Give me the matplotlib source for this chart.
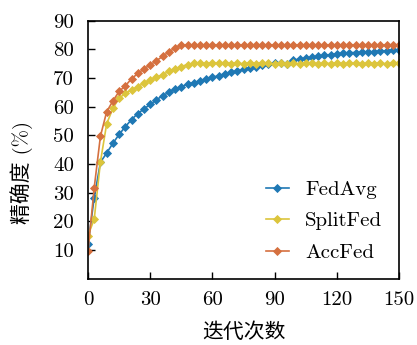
import matplotlib
matplotlib.use("Agg")
import matplotlib.pyplot as plt
import numpy as np

# Training rounds (sampled every 3 iterations)
iterations = list(range(0, 151, 3))

fedavg = [12.0, 28.2, 40.6, 43.8, 47.2, 50.3, 53.0, 55.5, 57.6, 59.2,
          60.8, 62.4, 63.8, 65.0, 66.2, 67.0, 67.8, 68.4, 69.0, 69.6,
          70.2, 70.8, 71.5, 72.0, 72.4, 73.0, 73.5, 74.0, 74.4, 74.8,
          75.1, 75.4, 75.0, 76.2, 76.6, 76.9, 77.2, 77.6, 77.9, 78.2,
          78.4, 78.6, 78.8, 78.9, 79.0, 79.1, 79.2, 79.4, 79.5, 79.7,
          79.8]

splitfed = [15.0, 20.7, 40.7, 54.0, 59.4, 63.0, 64.6, 65.8, 67.0, 68.2,
            69.2, 70.2, 71.2, 72.3, 73.2, 74.0, 74.7, 75.1, 75.3, 75.0,
            75.3, 75.1, 75.4, 75.0, 75.2, 74.9, 75.3, 75.0, 75.4, 75.1,
            74.9, 75.3, 75.0, 75.2, 74.9, 75.3, 75.1, 74.8, 75.2, 75.0,
            75.3, 74.9, 75.1, 75.2, 74.8, 75.2, 75.0, 75.3, 74.9, 75.2,
            75.1]

accfed = [9.5, 31.7, 49.7, 58.2, 62.0, 65.3, 67.3, 69.7, 71.6, 73.2,
          74.6, 76.0, 77.6, 79.1, 80.5, 81.4, 81.5, 81.5, 81.5, 81.5,
          81.5, 81.5, 81.5, 81.5, 81.5, 81.5, 81.5, 81.5, 81.5, 81.5,
          81.5, 81.5, 81.5, 81.5, 81.5, 81.5, 81.5, 81.5, 81.5, 81.5,
          81.5, 81.5, 81.5, 81.5, 81.5, 81.5, 81.5, 81.5, 81.5, 81.5,
          81.5]

series_names = ["FedAvg", "SplitFed", "AccFed"]
colors = ["#1f78b4", "#dcc53c", "#d5703f"]

xticks = [0, 30, 60, 90, 120, 150]
yticks = [10, 20, 30, 40, 50, 60, 70, 80, 90]

num_font = ["cmr10", "DejaVu Serif"]
cjk_font = ["cmr10", "Noto Sans CJK SC", "DejaVu Sans"]

plt.rcParams["axes.formatter.use_mathtext"] = True

fig = plt.figure(figsize=(4.17, 3.45), dpi=100)
ax = fig.add_axes([0.211, 0.1925, 0.746, 0.7475])

for name, vals, c in zip(series_names, [fedavg, splitfed, accfed], colors):
    ax.plot(iterations, vals, color=c, linewidth=1.2, marker="D",
            markersize=4.2, markeredgewidth=0.6, label=name)

ax.set_xlim(0, 150)
ax.set_ylim(0, 90)
ax.set_xticks(xticks)
ax.set_yticks(yticks)
ax.set_xticklabels([str(v) for v in xticks], fontfamily=num_font, fontsize=15)
ax.set_yticklabels([str(v) for v in yticks], fontfamily=num_font, fontsize=15)
ax.tick_params(direction="in", length=5, width=1.0, top=False, right=False)
ax.tick_params(axis="x", pad=9)
ax.tick_params(axis="y", pad=10)
for s in ax.spines.values():
    s.set_linewidth(1.2)

ax.set_xlabel("迭代次数", fontfamily=cjk_font, fontsize=15, labelpad=10)
ax.set_ylabel("精确度 (%)", fontfamily=cjk_font, fontsize=15)
ax.yaxis.set_label_coords(-0.177, 0.41)

leg = ax.legend(loc="lower right", frameon=False, prop={"family": num_font, "size": 15},
                handlelength=1.1, handletextpad=0.8, labelspacing=0.62,
                borderaxespad=0.4)

fig.savefig("out.png", dpi=100)
